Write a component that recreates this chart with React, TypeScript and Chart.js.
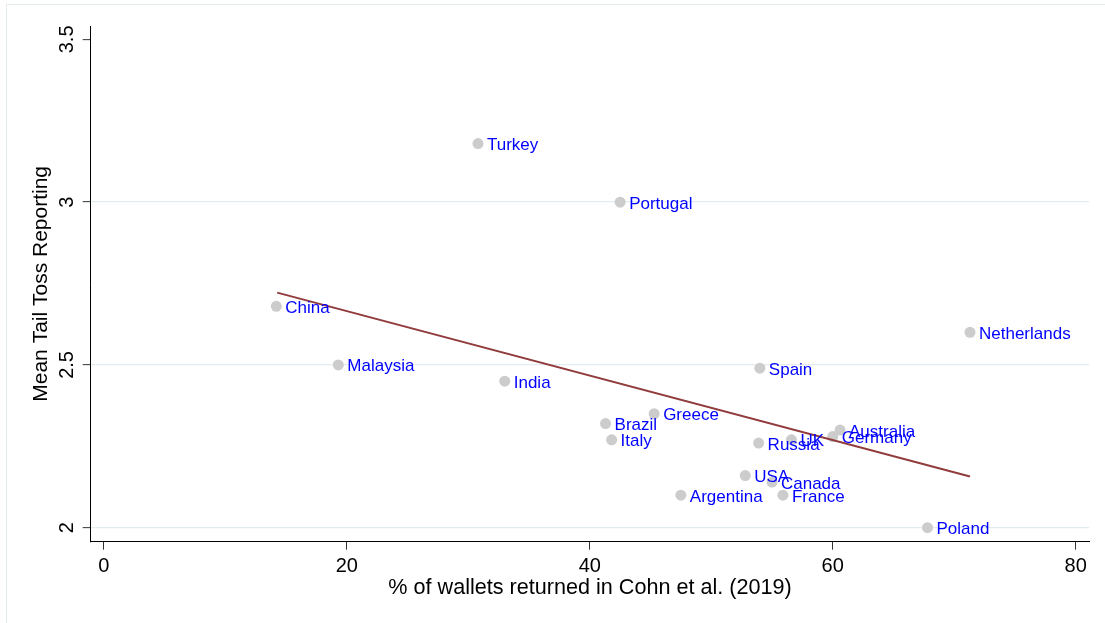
import React, { useEffect, useRef } from "react";
import { Chart, registerables } from "chart.js";

Chart.register(...registerables);

const countries = [
  "Turkey", "Portugal", "China", "Malaysia", "India", "Spain", "Netherlands",
  "Greece", "Brazil", "Italy", "Russia", "UK", "Germany", "Australia",
  "USA", "Canada", "Argentina", "France", "Poland",
];
const walletsReturned = [
  30.8, 42.5, 14.2, 19.3, 33.0, 54.0, 71.3,
  45.3, 41.3, 41.8, 53.9, 56.6, 60.0, 60.6,
  52.8, 55.0, 47.5, 55.9, 67.8,
];
const tailToss = [
  3.18, 3.0, 2.68, 2.5, 2.45, 2.49, 2.6,
  2.35, 2.32, 2.27, 2.26, 2.27, 2.28, 2.3,
  2.16, 2.14, 2.1, 2.1, 2.0,
];
const fitX = [14.27, 71.3];
const fitY = [2.722, 2.157];
const xTicks = [0, 20, 40, 60, 80];
const yTicks = [2, 2.5, 3, 3.5];

const FONT = "'Liberation Sans', Arial, Helvetica, sans-serif";

export default function App() {
  const ref = useRef<HTMLCanvasElement | null>(null);

  useEffect(() => {
    if (!ref.current) return;

    const framePlugin = {
      id: "frame",
      beforeDraw(chart: any) {
        const ctx = chart.ctx;
        ctx.save();
        ctx.fillStyle = "#ffffff";
        ctx.fillRect(0, 0, chart.width, chart.height);
        ctx.strokeStyle = "#E4ECF0";
        ctx.lineWidth = 1;
        ctx.strokeRect(6.5, 4.5, chart.width + 10, chart.height + 10);
        ctx.restore();
      },
    };

    const labelPlugin = {
      id: "pointLabels",
      afterDatasetsDraw(chart: any) {
        const meta = chart.getDatasetMeta(1);
        const ctx = chart.ctx;
        ctx.save();
        ctx.font = `17px ${FONT}`;
        ctx.fillStyle = "#0000FF";
        ctx.textAlign = "left";
        ctx.textBaseline = "alphabetic";
        meta.data.forEach((pt: any, i: number) => {
          ctx.fillText(countries[i], pt.x + 9, pt.y + 6.5);
        });
        ctx.restore();
      },
    };

    const chart = new Chart(ref.current, {
      type: "scatter",
      data: {
        datasets: [
          {
            type: "line",
            label: "Fitted values",
            data: fitX.map((x, i) => ({ x, y: fitY[i] })),
            borderColor: "#913B3D",
            borderWidth: 2,
            pointRadius: 0,
            fill: false,
            order: 1,
          } as any,
          {
            label: "Mean Tail Toss Reporting",
            data: walletsReturned.map((x, i) => ({ x, y: tailToss[i] })),
            backgroundColor: "#CCCCCC",
            borderWidth: 0,
            pointRadius: 5.5,
            pointHoverRadius: 5.5,
            order: 2,
          },
        ],
      },
      options: {
        responsive: false,
        devicePixelRatio: 1,
        animation: false,
        events: [],
        layout: { padding: { top: 26, right: 15.7, bottom: 0, left: 0 } },
        plugins: {
          legend: { display: false },
          tooltip: { enabled: false },
        },
        scales: {
          x: {
            type: "linear",
            min: -1.08,
            max: 81.12,
            afterBuildTicks: (scale: any) => {
              scale.ticks = xTicks.map((v) => ({ value: v }));
            },
            afterFit: (scale: any) => {
              scale.height = 81.3;
            },
            border: { display: true, color: "#000000", width: 1 },
            grid: {
              drawOnChartArea: false,
              drawTicks: true,
              tickLength: 8,
              tickColor: "#333333",
              tickWidth: 1,
            },
            ticks: {
              autoSkip: false,
              maxRotation: 0,
              minRotation: 0,
              padding: 5,
              color: "#000000",
              font: { family: FONT, size: 20 },
              callback: (v: any) => String(v),
            },
            title: {
              display: true,
              text: "% of wallets returned in Cohn et al. (2019)",
              color: "#000000",
              font: { family: FONT, size: 21.6 },
              padding: { top: 0, bottom: 21.8 },
            },
          },
          y: {
            type: "linear",
            min: 1.957,
            max: 3.541,
            afterBuildTicks: (scale: any) => {
              scale.ticks = yTicks.map((v) => ({ value: v }));
            },
            afterFit: (scale: any) => {
              scale.width = 90.7;
            },
            border: { display: true, color: "#000000", width: 1 },
            grid: {
              drawOnChartArea: true,
              color: (c: any) =>
                c.tick && c.tick.value === 3.5 ? "rgba(0,0,0,0)" : "#E3ECF0",
              lineWidth: 1.3,
              drawTicks: true,
              tickLength: 8,
              tickColor: "#333333",
              tickWidth: 1,
            },
            ticks: {
              autoSkip: false,
              minRotation: 90,
              maxRotation: 90,
              crossAlign: "center",
              padding: 1,
              color: "#000000",
              font: { family: FONT, size: 20 },
              callback: (v: any) => String(v),
            },
            title: {
              display: true,
              text: "Mean Tail Toss Reporting",
              color: "#000000",
              font: { family: FONT, size: 21 },
              padding: { top: 28.4, bottom: 0 },
            },
          },
        },
      } as any,
      plugins: [framePlugin, labelPlugin],
    });

    return () => chart.destroy();
  }, []);

  return (
    <div style={{ position: "fixed", left: 0, top: 0, width: 1105, height: 623, background: "#fff" }}>
      <canvas ref={ref} width={1105} height={623} style={{ width: 1105, height: 623, display: "block" }} />
    </div>
  );
}
